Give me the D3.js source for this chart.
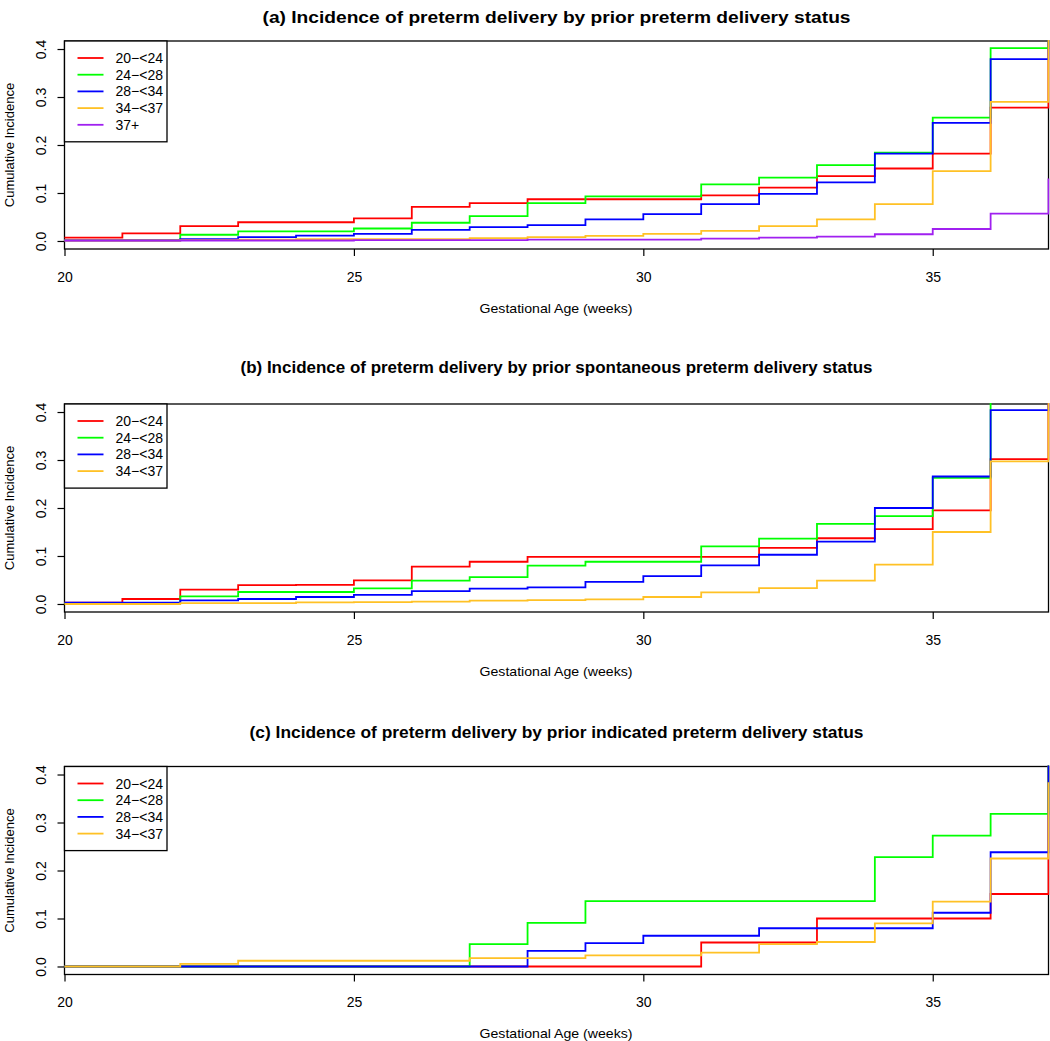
<!DOCTYPE html>
<html>
<head>
<meta charset="utf-8">
<script src="https://cdn.jsdelivr.net/npm/d3@7"></script>
<style>
  html, body { margin: 0; padding: 0; background: #fff; }
  svg { display: block; font-family: "Liberation Sans", Arial, Helvetica, sans-serif; }
</style>
</head>
<body>
<svg id="chart" width="1050" height="1041"></svg>
<script>
// ---------------- DATA ----------------
// Week intervals [20,21) ... [36,37), then value reached at week 37
const weeks = [20,21,22,23,24,25,26,27,28,29,30,31,32,33,34,35,36,37];
const xTicks = [20, 25, 30, 35];
const yTicks = [0.0, 0.1, 0.2, 0.3, 0.4];

const titles = [
  "(a) Incidence of preterm delivery by prior preterm delivery status",
  "(b) Incidence of preterm delivery by prior spontaneous preterm delivery status",
  "(c) Incidence of preterm delivery by prior indicated preterm delivery status"
];
const xLabel = "Gestational Age (weeks)";
const yLabel = "Cumulative Incidence";

const seriesNames = ["20\u2212<24", "24\u2212<28", "28\u2212<34", "34\u2212<37", "37+"];
const seriesColors = ["#FF0000", "#00FF00", "#0000FF", "#FFC125", "#A020F0"];

// Panel (a)
const a_20_24 = [0.007,0.016,0.031,0.039,0.039,0.047,0.071,0.079,0.087,0.087,0.087,0.095,0.111,0.135,0.151,0.182,0.278,1];
const a_24_28 = [0.002,0.002,0.013,0.020,0.020,0.026,0.038,0.052,0.079,0.093,0.093,0.118,0.132,0.158,0.184,0.257,0.402,1];
const a_28_34 = [0.001,0.001,0.004,0.008,0.011,0.015,0.023,0.029,0.033,0.045,0.056,0.077,0.098,0.122,0.182,0.246,0.379,1];
const a_34_37 = [0.001,0.001,0.002,0.003,0.004,0.004,0.004,0.006,0.008,0.0105,0.015,0.021,0.031,0.045,0.077,0.1455,0.290,1];
const a_37p   = [0.001,0.001,0.001,0.001,0.001,0.002,0.002,0.002,0.003,0.003,0.003,0.005,0.007,0.009,0.014,0.025,0.057,0.130];

// Panel (b)
const b_20_24 = [0.003,0.0104,0.030,0.0395,0.040,0.049,0.078,0.088,0.098,0.098,0.098,0.098,0.117,0.137,0.156,0.195,0.302,1];
const b_24_28 = [0.002,0.002,0.016,0.025,0.025,0.0326,0.0485,0.056,0.080,0.088,0.088,0.120,0.136,0.167,0.183,0.263,0.430,1];
const b_28_34 = [0.003,0.003,0.0077,0.0104,0.0146,0.019,0.027,0.032,0.0347,0.046,0.058,0.0805,0.1026,0.130,0.200,0.2656,0.404,1];
const b_34_37 = [0.000,0.000,0.002,0.002,0.0035,0.004,0.005,0.007,0.008,0.0097,0.0146,0.024,0.033,0.0485,0.082,0.150,0.297,1];

// Panel (c)
const c_20_24 = [0,0,0,0,0,0,0,0,0,0,0,0.050,0.050,0.100,0.100,0.100,0.151,1];
const c_24_28 = [0,0,0,0,0,0,0,0.0465,0.091,0.136,0.136,0.136,0.136,0.136,0.2277,0.2727,0.318,1];
const c_28_34 = [0,0,0,0,0,0,0,0,0.0326,0.0485,0.064,0.064,0.0797,0.0797,0.0797,0.112,0.238,1];
const c_34_37 = [0,0,0.0055,0.012,0.012,0.012,0.012,0.0174,0.0174,0.023,0.023,0.029,0.0465,0.051,0.090,0.135,0.225,0.384];

const panels = [
  { title: titles[0], titleW: 588, series: [a_20_24, a_24_28, a_28_34, a_34_37, a_37p] },
  { title: titles[1], titleW: 632, series: [b_20_24, b_24_28, b_28_34, b_34_37] },
  { title: titles[2], titleW: 614, series: [c_20_24, c_24_28, c_28_34, c_34_37] }
];

// ---------------- LAYOUT ----------------
const svg = d3.select("#chart");
const left = 64.5, right = 1048.5;
const boxTops = [41, 404, 766.5];
const titleYs = [17, 367, 732];
const boxH = 208;

const x = d3.scaleLinear().domain([20, 37]).range([left, right]);

panels.forEach((p, pi) => {
  const top = boxTops[pi], bottom = top + boxH;
  const y = d3.scaleLinear().domain([-0.0167, 0.4167]).range([bottom, top]);
  const g = svg.append("g");

  // title
  g.append("text")
    .attr("x", (left + right) / 2).attr("y", titleYs[pi])
    .attr("text-anchor", "middle").attr("dominant-baseline", "central")
    .attr("textLength", p.titleW).attr("lengthAdjust", "spacingAndGlyphs")
    .style("font-size", "17px").style("font-weight", "bold")
    .text(p.title);

  // x axis
  const xa = g.append("g").attr("transform", `translate(0,${bottom})`)
    .call(d3.axisBottom(x).tickValues(xTicks).tickSize(7).tickSizeOuter(0).tickFormat(d3.format("d")));
  xa.select(".domain").remove();
  xa.selectAll(".tick line").attr("stroke", "#000").attr("stroke-width", 1.2);
  xa.selectAll(".tick text").attr("y", 28).attr("dy", "0.35em")
    .style("font-size", "14px").style("font-family", "Liberation Sans, Arial, sans-serif").attr("fill", "#000");

  // y axis
  const ya = g.append("g").attr("transform", `translate(${left},0)`)
    .call(d3.axisLeft(y).tickValues(yTicks).tickSize(7).tickSizeOuter(0).tickFormat(d3.format(".1f")));
  ya.select(".domain").remove();
  ya.selectAll(".tick line").attr("stroke", "#000").attr("stroke-width", 1.2);
  ya.selectAll(".tick text")
    .attr("x", null).attr("dy", null)
    .attr("transform", "translate(-24,0) rotate(-90)")
    .attr("text-anchor", "middle").attr("dominant-baseline", "central")
    .style("font-size", "14px").style("font-family", "Liberation Sans, Arial, sans-serif").attr("fill", "#000");

  // axis titles
  g.append("text")
    .attr("x", 556).attr("y", bottom + 59)
    .attr("text-anchor", "middle").attr("dominant-baseline", "central")
    .attr("textLength", 153).attr("lengthAdjust", "spacingAndGlyphs")
    .style("font-size", "13.5px").text(xLabel);
  g.append("text")
    .attr("transform", `translate(9,${(top + bottom) / 2}) rotate(-90)`)
    .attr("text-anchor", "middle").attr("dominant-baseline", "central")
    .style("font-size", "13px").text(yLabel);

  // box
  g.append("rect")
    .attr("x", left).attr("y", top).attr("width", right - left).attr("height", boxH)
    .attr("fill", "none").attr("stroke", "#000").attr("stroke-width", 1.3);

  // clip
  const clipId = "clip" + pi;
  svg.append("clipPath").attr("id", clipId)
    .append("rect").attr("x", left - 1).attr("y", top - 1)
    .attr("width", right - left + 2).attr("height", boxH + 2);

  const line = d3.line()
    .x(d => x(d[0])).y(d => y(d[1]))
    .curve(d3.curveStepAfter);

  const lg = g.append("g").attr("clip-path", `url(#${clipId})`);
  p.series.forEach((vals, si) => {
    const pts = weeks.map((w, i) => [w, vals[i]]);
    lg.append("path")
      .attr("d", line(pts))
      .attr("fill", "none")
      .attr("stroke", seriesColors[si])
      .attr("stroke-width", 1.8);
  });

  // legend
  const n = p.series.length;
  const rowH = 16.7;
  const legH = 17 + (n - 1) * rowH + 17;
  const leg = g.append("g");
  leg.append("rect")
    .attr("x", left).attr("y", top).attr("width", 102.5).attr("height", legH)
    .attr("fill", "#fff").attr("stroke", "#000").attr("stroke-width", 1.3);
  for (let i = 0; i < n; i++) {
    const ry = top + 17 + i * rowH;
    leg.append("line")
      .attr("x1", left + 13).attr("x2", left + 39)
      .attr("y1", ry).attr("y2", ry)
      .attr("stroke", seriesColors[i]).attr("stroke-width", 1.8);
    leg.append("text")
      .attr("x", left + 51).attr("y", ry)
      .attr("dominant-baseline", "central")
      .style("font-size", "14px").text(seriesNames[i]);
  }
});
</script>
</body>
</html>
